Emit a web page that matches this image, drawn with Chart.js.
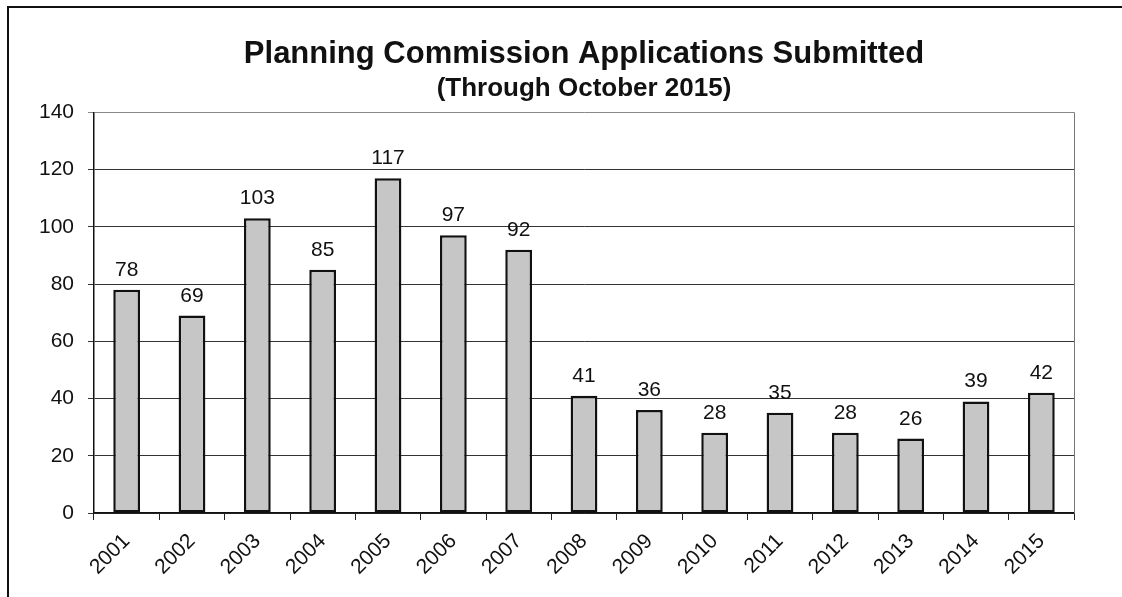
<!DOCTYPE html>
<html>
<head>
<meta charset="utf-8">
<title>Planning Commission Applications Submitted</title>
<script src="https://cdn.jsdelivr.net/npm/chart.js@4"></script>
<style>
  html, body { margin: 0; padding: 0; background: #fff; }
  #wrap { position: relative; width: 1122px; height: 597px; overflow: hidden; }
  #frame {
    position: absolute; left: 7px; top: 6px; width: 1200px; height: 700px;
    border-left: 2px solid #111; border-top: 2px solid #111;
  }
  #chart { position: absolute; left: 0; top: 0; }
</style>
</head>
<body>
<div id="wrap">
  <div id="frame"></div>
  <canvas id="chart" width="1122" height="597"></canvas>
</div>
<script>
  const years = ['2001', '2002', '2003', '2004', '2005', '2006', '2007', '2008',
                 '2009', '2010', '2011', '2012', '2013', '2014', '2015'];
  const applications = [78, 69, 103, 85, 117, 97, 92, 41, 36, 28, 35, 28, 26, 39, 42];
  const yMin = 0, yMax = 140, yStep = 20;

  const FONT = '"Liberation Sans", Arial, sans-serif';

  // value labels above each bar
  const barLabels = {
    id: 'barLabels',
    afterDatasetsDraw(chart) {
      const ctx = chart.ctx;
      const meta = chart.getDatasetMeta(0);
      ctx.save();
      ctx.font = '21px ' + FONT;
      ctx.fillStyle = '#111';
      ctx.textAlign = 'center';
      ctx.textBaseline = 'alphabetic';
      meta.data.forEach((bar, i) => {
        ctx.fillText(String(chart.data.datasets[0].data[i]), bar.x, bar.y - 14);
      });
      ctx.restore();
    }
  };

  // right edge of the plot box
  const plotBorder = {
    id: 'plotBorder',
    afterDraw(chart) {
      const a = chart.chartArea;
      const ctx = chart.ctx;
      ctx.save();
      ctx.strokeStyle = '#777';
      ctx.lineWidth = 1;
      ctx.beginPath();
      ctx.moveTo(Math.round(a.right) + 0.5, a.top);
      ctx.lineTo(Math.round(a.right) + 0.5, a.bottom);
      ctx.stroke();
      ctx.restore();
    }
  };

  new Chart(document.getElementById('chart'), {
    type: 'bar',
    data: {
      labels: years,
      datasets: [{
        data: applications,
        backgroundColor: '#c6c6c6',
        borderColor: '#111',
        borderWidth: 2.5,
        borderSkipped: false,
        barPercentage: 0.41,
        categoryPercentage: 1
      }]
    },
    options: {
      responsive: false,
      animation: false,
      devicePixelRatio: 1,
      layout: { padding: { left: 0, right: 48, top: 0, bottom: 0 } },
      plugins: {
        legend: { display: false },
        tooltip: { enabled: false },
        // fullSize false -> titles are centred over the plot area only
        title: {
          display: true,
          fullSize: false,
          text: 'Planning Commission Applications Submitted',
          color: '#111',
          font: { family: FONT, size: 31, weight: 'bold', lineHeight: 1.1 },
          padding: { top: 37, bottom: 0 }
        },
        subtitle: {
          display: true,
          fullSize: false,
          text: '(Through October 2015)',
          color: '#111',
          font: { family: FONT, size: 26, weight: 'bold', lineHeight: 1.2 },
          padding: { top: 2, bottom: 8 }
        }
      },
      scales: {
        x: {
          offset: true,
          grid: {
            offset: true,
            drawOnChartArea: false,
            drawTicks: true,
            tickLength: 7,
            color: '#222'
          },
          border: { display: true, color: '#111', width: 1.5 },
          ticks: {
            color: '#111',
            font: { family: FONT, size: 21 },
            minRotation: 45,
            maxRotation: 45,
            padding: 9
          },
          afterFit(scale) { scale.height = 84; }
        },
        y: {
          min: yMin,
          max: yMax,
          ticks: {
            stepSize: yStep,
            color: '#111',
            font: { family: FONT, size: 21 },
            padding: 14
          },
          grid: {
            color: (c) => (c.tick && c.tick.value === yMax ? '#888' : '#333'),
            lineWidth: 1,
            tickLength: 6
          },
          border: { display: true, color: '#111', width: 1.5 },
          afterFit(scale) { scale.width = 94; }
        }
      }
    },
    plugins: [barLabels, plotBorder]
  });
</script>
</body>
</html>
